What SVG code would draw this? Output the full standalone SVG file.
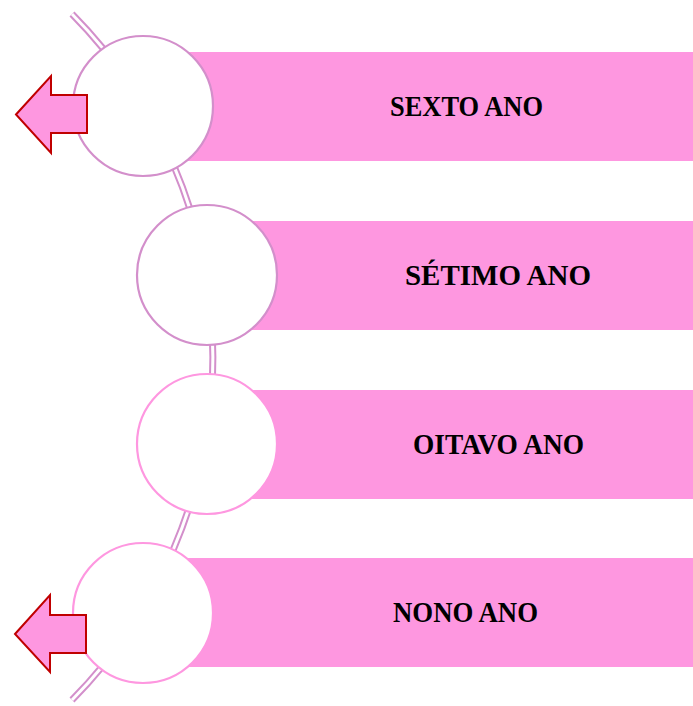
<svg xmlns="http://www.w3.org/2000/svg" width="693" height="706" viewBox="0 0 693 706">
<style>
.bar{fill:#FE97E0;}
.c1{fill:#FFFFFF;stroke:#D38FCB;stroke-width:2.2;}
.c2{fill:#FFFFFF;stroke:#FE97E0;stroke-width:2.2;}
.lbl{font-family:"Liberation Serif","DejaVu Serif",serif;font-weight:bold;font-size:30px;fill:#000000;}
.arr{fill:#FE97E0;stroke:#C00000;stroke-width:2;stroke-linejoin:miter;}
</style>
<rect width="693" height="706" fill="#FFFFFF"/>
<g id="connectors">
<path d="M 72 14 A 488 488 0 0 1 72 700" fill="none" stroke="#D38FCB" stroke-width="7"/>
<path d="M 72 14 A 488 488 0 0 1 72 700" fill="none" stroke="#FFFFFF" stroke-width="3"/>
</g>
<g id="node-sexto">
<rect class="bar" x="143" y="52" width="550" height="109"/>
<circle class="c1" cx="143" cy="106" r="70"/>
<text class="lbl" x="390" y="116" textLength="153" lengthAdjust="spacingAndGlyphs">SEXTO ANO</text>
</g>
<g id="node-setimo">
<rect class="bar" x="207" y="221" width="486" height="109"/>
<circle class="c1" cx="207" cy="275" r="70"/>
<text class="lbl" x="405" y="285" textLength="186" lengthAdjust="spacingAndGlyphs">SÉTIMO ANO</text>
</g>
<g id="node-oitavo">
<rect class="bar" x="207" y="390" width="486" height="109"/>
<circle class="c2" cx="207" cy="444" r="70"/>
<text class="lbl" x="413" y="454" textLength="171" lengthAdjust="spacingAndGlyphs">OITAVO ANO</text>
</g>
<g id="node-nono">
<rect class="bar" x="143" y="558" width="550" height="109"/>
<circle class="c2" cx="143" cy="613" r="70"/>
<text class="lbl" x="393" y="622" textLength="145" lengthAdjust="spacingAndGlyphs">NONO ANO</text>
</g>
<g id="arrow-top">
<polygon class="arr" points="16,114.5 51,76 51,95 87,95 87,133 51,133 51,153"/>
</g>
<g id="arrow-bottom">
<polygon class="arr" points="15,634 50,595 50,615 86,615 86,653 50,653 50,672"/>
</g>
</svg>
